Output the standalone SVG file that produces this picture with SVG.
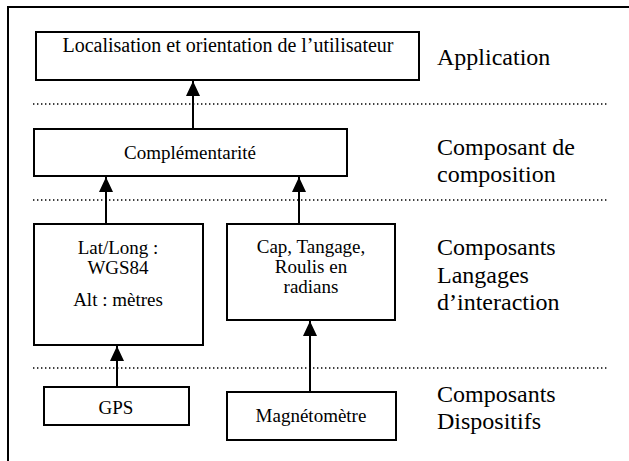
<svg xmlns="http://www.w3.org/2000/svg" width="629" height="461" viewBox="0 0 629 461">
  <style>
    .box { fill: #ffffff; stroke: #000000; stroke-width: 2; }
    .frame { fill: none; stroke: #000000; stroke-width: 2; }
    .sep { stroke: #000000; stroke-width: 1.4; stroke-dasharray: 1.4 2.6; }
    .wire { stroke: #000000; stroke-width: 2; fill: none; marker-end: url(#head); }
    .t { font-family: "Liberation Serif", "Times New Roman", serif; font-size: 19px; fill: #000000; text-anchor: middle; }
    .lbl { font-family: "Liberation Serif", "Times New Roman", serif; font-size: 24px; fill: #000000; }
  </style>
  <defs>
    <marker id="head" markerUnits="userSpaceOnUse" markerWidth="16" markerHeight="16" viewBox="0 0 16 16" refX="15" refY="8" orient="auto">
      <path d="M0,1 L15,8 L0,15 Z" fill="#000000"/>
    </marker>
  </defs>

  <!-- page frame (top and left edges) -->
  <path class="frame" d="M8,461 V7 H629"/>

  <!-- layer separators -->
  <g id="separators">
    <line class="sep" x1="33" y1="104" x2="608" y2="104"/>
    <line class="sep" x1="33" y1="200" x2="608" y2="200"/>
    <line class="sep" x1="33" y1="368" x2="608" y2="368"/>
  </g>

  <!-- layer labels -->
  <g id="labels">
    <text class="lbl" x="437" y="65">Application</text>
    <text class="lbl" x="437" y="155">Composant de</text>
    <text class="lbl" x="437" y="182">composition</text>
    <text class="lbl" x="437" y="255">Composants</text>
    <text class="lbl" x="437" y="283">Langages</text>
    <text class="lbl" x="437" y="310">d’interaction</text>
    <text class="lbl" x="437" y="402">Composants</text>
    <text class="lbl" x="437" y="429">Dispositifs</text>
  </g>

  <g id="app">
    <rect class="box" x="36" y="32" width="383" height="48"/>
    <text class="t" x="228" y="52" style="font-size:20px">Localisation et orientation de l’utilisateur</text>
  </g>

  <g id="complementarite">
    <rect class="box" x="34" y="129" width="313" height="47"/>
    <text class="t" x="190" y="159">Complémentarité</text>
  </g>

  <g id="latlong">
    <rect class="box" x="34" y="224" width="169" height="121"/>
    <text class="t" x="118" y="254">Lat/Long :</text>
    <text class="t" x="118" y="274">WGS84</text>
    <text class="t" x="118" y="306">Alt : mètres</text>
  </g>

  <g id="cap">
    <rect class="box" x="227" y="224" width="168" height="96"/>
    <text class="t" x="311" y="253">Cap, Tangage,</text>
    <text class="t" x="311" y="273">Roulis en</text>
    <text class="t" x="311" y="293">radians</text>
  </g>

  <g id="gps">
    <rect class="box" x="44" y="387" width="145" height="38"/>
    <text class="t" x="116" y="414">GPS</text>
  </g>

  <g id="magnetometre">
    <rect class="box" x="227" y="392" width="169" height="48"/>
    <text class="t" x="311" y="422">Magnétomètre</text>
  </g>

  <!-- connectors -->
  <g id="connectors">
    <line class="wire" x1="193" y1="129" x2="193" y2="81"/>
    <line class="wire" x1="106" y1="224" x2="106" y2="177"/>
    <line class="wire" x1="299" y1="224" x2="299" y2="177"/>
    <line class="wire" x1="117" y1="387" x2="117" y2="346"/>
    <line class="wire" x1="310" y1="392" x2="310" y2="321"/>
  </g>
</svg>
